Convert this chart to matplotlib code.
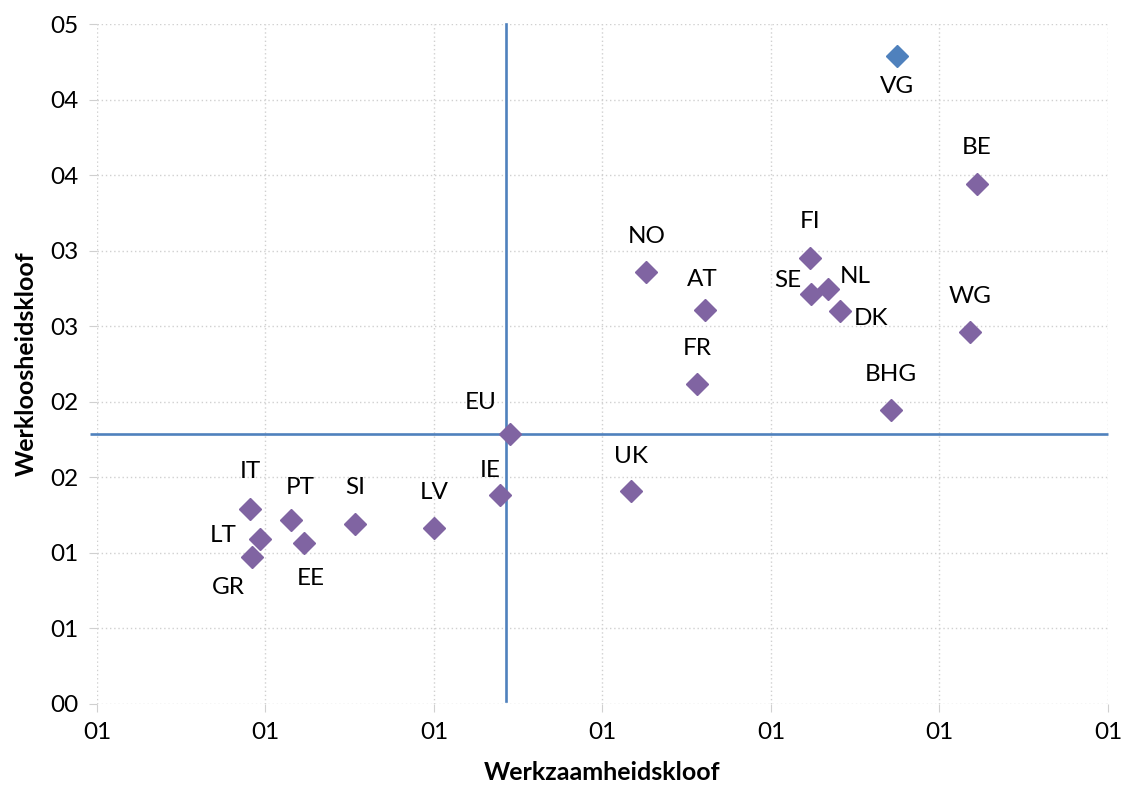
import matplotlib
matplotlib.use("Agg")
import matplotlib.pyplot as plt

plt.rcParams['font.family'] = ['Lato', 'DejaVu Sans']

countries = ["VG", "BE", "FI", "NO", "NL", "SE", "AT", "DK", "WG", "FR", "BHG",
             "EU", "UK", "IE", "IT", "PT", "SI", "LV", "LT", "EE", "GR"]
werkzaamheid = [0.1075, 0.1122, 0.1023, 0.0926, 0.1034, 0.1024, 0.0961, 0.1041, 0.1118, 0.0956, 0.1071,
                0.0845, 0.0917, 0.0839, 0.0691, 0.0715, 0.0753, 0.0800, 0.0697, 0.0723, 0.0692]
werkloosheid = [0.4288, 0.3441, 0.2951, 0.2858, 0.2746, 0.2713, 0.2607, 0.2600, 0.2461, 0.2117, 0.1944,
                0.1786, 0.1408, 0.1382, 0.1289, 0.1216, 0.1190, 0.1163, 0.1090, 0.1064, 0.0971]

x_ticks = [0.06, 0.07, 0.08, 0.09, 0.10, 0.11, 0.12]
x_ticklabels = ["01", "01", "01", "01", "01", "01", "01"]
y_ticks = [0.00, 0.05, 0.10, 0.15, 0.20, 0.25, 0.30, 0.35, 0.40, 0.45]
y_ticklabels = ["00", "01", "01", "02", "02", "03", "03", "04", "04", "05"]

# label offsets in pixels (dx, dy), positive dy = up
label_offsets = {
    "VG": (0, -30), "BE": (0, 36), "FI": (0, 36), "NO": (0, 36), "NL": (27, 12),
    "SE": (-24, 13), "AT": (-3, 30), "DK": (31, -7), "WG": (0, 35), "FR": (0, 35),
    "BHG": (0, 36), "EU": (-29, 31), "UK": (0, 35), "IE": (-10, 24), "IT": (0, 38),
    "PT": (9, 33), "SI": (0, 36), "LV": (0, 36), "LT": (-37, 4), "EE": (7, -35),
    "GR": (-24, -30),
}

purple = "#8064A2"
blue = "#4F81BD"

fig = plt.figure(figsize=(11.29, 7.87), dpi=100)
ax = fig.add_axes([0.0859, 0.1058, 0.9814 - 0.0859, 0.9695 - 0.1058])

ax.set_xlim(x_ticks[0], x_ticks[-1])
ax.set_ylim(y_ticks[0], y_ticks[-1])
ax.set_xticks(x_ticks)
ax.set_xticklabels(x_ticklabels)
ax.set_yticks(y_ticks)
ax.set_yticklabels(y_ticklabels)
ax.grid(True, color="#d0d0d0", linestyle=(0, (1, 2)), linewidth=1)
ax.set_axisbelow(True)
for s in ax.spines.values():
    s.set_visible(False)
ax.tick_params(axis='both', length=6, color="#d0d0d0", labelsize=17.5, pad=7)

# EU reference lines
i_eu = countries.index("EU")
eu_x, eu_y = werkzaamheid[i_eu], werkloosheid[i_eu]
vx = eu_x - 0.0002
ax.plot([vx, vx], [0.002, y_ticks[-1]], color=blue, linewidth=1.9, zorder=2, clip_on=False)
ax.plot([x_ticks[0] - 0.0004, x_ticks[-1]], [eu_y, eu_y], color=blue, linewidth=1.9,
        zorder=2, clip_on=False, solid_capstyle='butt')

for c, x, y in zip(countries, werkzaamheid, werkloosheid):
    col = blue if c == "VG" else purple
    ax.plot([x], [y], marker='D', markersize=11, color=col, linestyle='none', zorder=3)
    dx, dy = label_offsets[c]
    ax.annotate(c, (x, y), xytext=(dx * 0.72, dy * 0.72), textcoords='offset points',
                ha='center', va='center', fontsize=17.5, color="#000000")

ax.set_xlabel("Werkzaamheidskloof", fontsize=18, fontweight='bold', labelpad=13)
ax.set_ylabel("Werkloosheidskloof", fontsize=18, fontweight='bold', labelpad=9)

fig.savefig("out.png", dpi=100)
